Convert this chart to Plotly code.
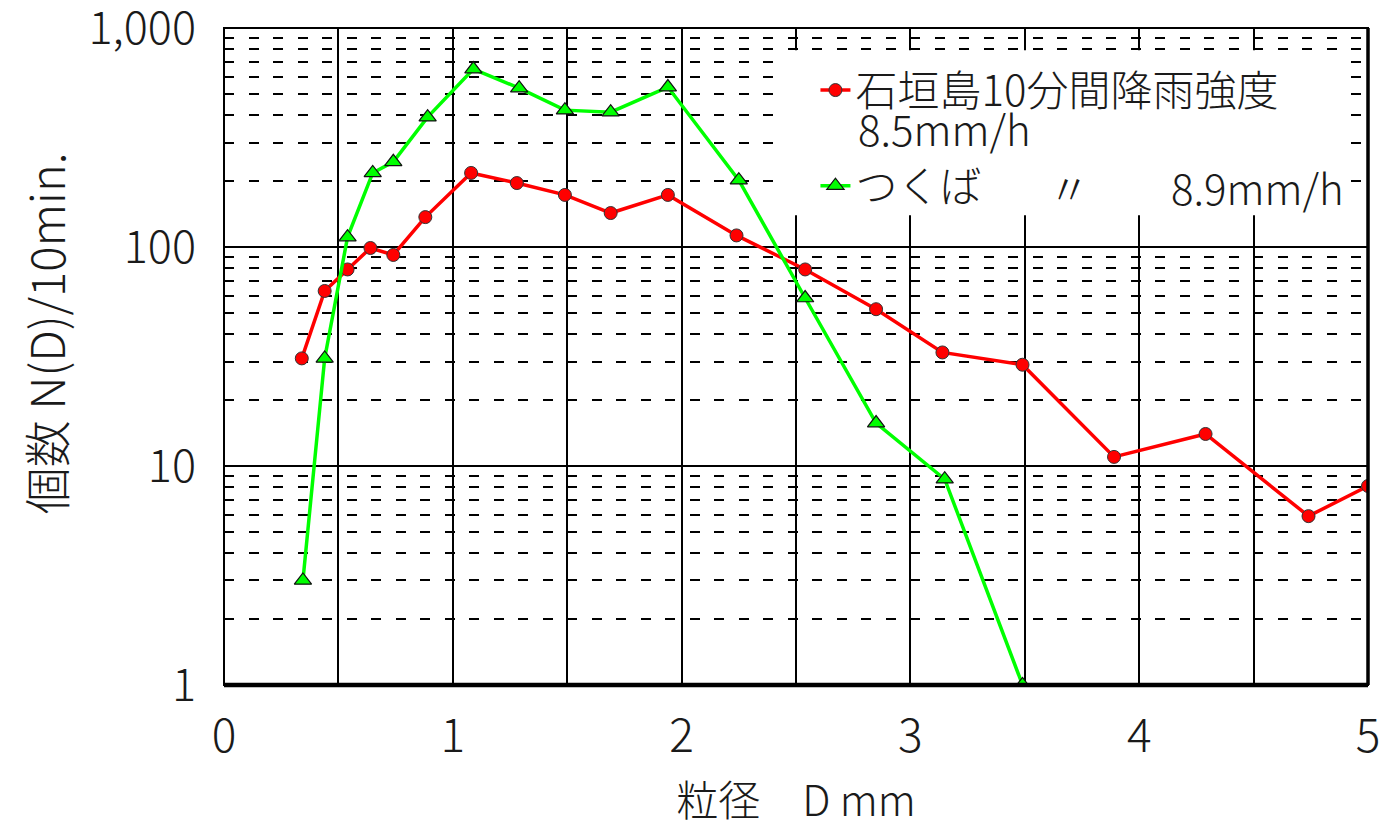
import plotly.graph_objects as go

# Data
d_ishigaki = [0.34, 0.44, 0.54, 0.64, 0.74, 0.88, 1.08, 1.28, 1.49, 1.69, 1.94, 2.24,
              2.54, 2.85, 3.14, 3.49, 3.89, 4.29, 4.74, 5.0]
n_ishigaki = [31, 63, 79, 99, 92, 137, 218, 196, 173, 143, 173, 113,
              79, 52, 33, 29, 11, 14, 5.9, 8.1]

d_tsukuba = [0.345, 0.44, 0.54, 0.65, 0.74, 0.89, 1.09, 1.29, 1.49, 1.69, 1.94, 2.25,
             2.54, 2.85, 3.15, 3.49]
n_tsukuba = [3.0, 31, 111, 218, 245, 392, 650, 532, 422, 413, 538, 202,
             58.5, 15.7, 8.7, 1.0]

name_ishigaki = "石垣島10分間降雨強度"
name_tsukuba = "つくば"
rate_ishigaki = "8.5mm/h"
rate_tsukuba = "8.9mm/h"
ditto = "〃"
x_title = "粒径　D mm"
y_title = "個数 N(D)/10min."

x_ticks = [0, 1, 2, 3, 4, 5]
y_tickvals = [1, 10, 100, 1000]
y_ticktext = ["1", "10", "100", "1,000"]

FONT = "Noto Sans CJK JP, Noto Sans, sans-serif"
FS = 42
TXT = "#1a1a1a"
W = 300

fig = go.Figure()
fig.add_trace(go.Scatter(
    x=d_ishigaki, y=n_ishigaki, mode="lines+markers", name=name_ishigaki,
    legendgroup="a",
    line=dict(color="#ff0000", width=3.5),
    marker=dict(symbol="circle", size=13, color="#ff0000", line=dict(color="#333", width=1)),
))
fig.add_trace(go.Scatter(
    x=d_tsukuba, y=n_tsukuba, mode="lines+markers", name=name_tsukuba,
    legendgroup="b",
    line=dict(color="#00ff00", width=3.5),
    marker=dict(symbol="triangle-up", size=15, color="#00ff00", line=dict(color="#111", width=1.2)),
))

fig.update_xaxes(
    range=[0, 5], tickvals=x_ticks, ticks="", showline=False, zeroline=False,
    automargin=False, ticklabeloverflow="allow",
    showgrid=True, gridcolor="black", gridwidth=1.6,
    minor=dict(dtick=0.5, showgrid=True, gridcolor="black", gridwidth=1.6, ticks=""),
    tickfont=dict(family=FONT, size=46, color=TXT, weight=W),
    ticklabelstandoff=20,
    title=dict(text=x_title, font=dict(family=FONT, size=FS, color=TXT, weight=W), standoff=28),
)
fig.update_yaxes(
    type="log", range=[-0.0005, 3.0005], tickvals=y_tickvals, ticktext=y_ticktext, ticks="",
    showline=False, zeroline=False, automargin=False, ticklabeloverflow="allow",
    showgrid=True, gridcolor="black", gridwidth=1.6,
    minor=dict(dtick="D1", showgrid=True, gridcolor="black", gridwidth=2,
               griddash="10px,14.5px", ticks=""),
    tickfont=dict(family=FONT, size=45, color=TXT, weight=W),
    ticklabelstandoff=27,
)

# white legend panel (no data passes through this region)
fig.add_shape(type="rect", xref="paper", yref="paper", x0=0.490, y0=0.715, x1=0.980, y1=0.966,
              line=dict(width=0), fillcolor="white", layer="above")
# plot frame
fig.add_shape(type="rect", xref="paper", yref="paper", x0=0, y0=0, x1=1, y1=1,
              line=dict(color="black", width=2), layer="above")
fig.add_shape(type="line", xref="paper", yref="paper", x0=0, y0=0, x1=1, y1=0,
              line=dict(color="black", width=4.5), layer="above")
fig.add_shape(type="line", xref="paper", yref="paper", x0=1, y0=0, x1=1, y1=1,
              line=dict(color="black", width=3.5), layer="above")

ann_font = dict(family=FONT, size=FS, color=TXT, weight=W)
fig.add_annotation(xref="paper", yref="paper", x=-0.157, y=0.536, text=y_title,
                   textangle=-90, showarrow=False, xanchor="center", yanchor="middle",
                   font=dict(family=FONT, size=47, color=TXT, weight=W))
fig.add_annotation(xref="paper", yref="paper", x=0.5525, y=0.849, text=rate_ishigaki,
                   showarrow=False, xanchor="left", yanchor="middle", font=ann_font)
fig.add_annotation(xref="paper", yref="paper", x=0.739, y=0.758, text=ditto,
                   showarrow=False, xanchor="center", yanchor="middle", font=ann_font)
fig.add_annotation(xref="paper", yref="paper", x=0.826, y=0.758, text=rate_tsukuba,
                   showarrow=False, xanchor="left", yanchor="middle", font=ann_font)

fig.update_layout(
    width=1379, height=820,
    margin=dict(l=216, r=19, t=20, b=143, autoexpand=False),
    paper_bgcolor="white", plot_bgcolor="white",
    font=dict(family=FONT, size=FS, color=TXT),
    showlegend=True,
    legend=dict(x=0.517, y=0.957, xanchor="left", yanchor="top",
                bgcolor="rgba(255,255,255,0)", borderwidth=0, tracegroupgap=38,
                font=dict(family=FONT, size=FS, color=TXT, weight=W), itemwidth=30),
)

fig.write_html("out.html")
